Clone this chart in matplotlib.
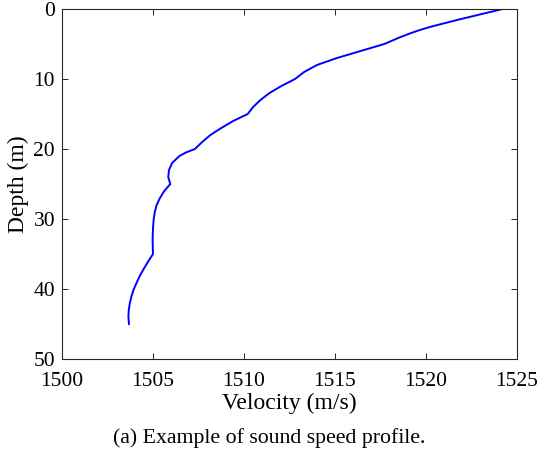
import matplotlib
matplotlib.use('Agg')
import matplotlib.pyplot as plt

# sound speed profile
depth = [0, 0.5, 1, 1.5, 2, 2.5, 3, 3.5, 4, 4.5, 5,
         6, 7, 8, 9, 10,
         11, 12, 13, 14, 15,
         16, 17, 18, 19, 20,
         20.5, 21, 22, 23, 24, 25,
         26, 27, 28, 29, 30, 31, 32, 33, 34, 35,
         36, 37, 38, 39, 40, 41, 42, 43, 44, 45]
velocity = [1524.2, 1523.4, 1522.6, 1521.8, 1521.05, 1520.3, 1519.65, 1519.1, 1518.6, 1518.15, 1517.7,
            1516.4, 1515.1, 1514.0, 1513.3, 1512.8,
            1512.05, 1511.4, 1510.9, 1510.5, 1510.2,
            1509.4, 1508.75, 1508.15, 1507.7, 1507.3,
            1506.8, 1506.45, 1506.05, 1505.88, 1505.84, 1505.95,
            1505.62, 1505.38, 1505.2, 1505.1, 1505.04, 1505.01, 1504.99, 1504.98, 1504.99, 1505.0,
            1504.75, 1504.52, 1504.3, 1504.12, 1503.95, 1503.82, 1503.73, 1503.67, 1503.65, 1503.68]

xticks = [1500, 1505, 1510, 1515, 1520, 1525]
yticks = [0, 10, 20, 30, 40, 50]

plt.rcParams['font.family'] = ['Liberation Serif', 'DejaVu Serif']

fig = plt.figure(figsize=(5.38, 4.53), dpi=100)
ax = fig.add_axes([0.1152, 0.2075, 0.8458, 0.7725])
ax.plot(velocity, depth, color='#0000ff', lw=1.4)

ax.set_xlim(1500, 1525)
ax.set_ylim(50, 0)
ax.set_xticks(xticks)
ax.set_yticks(yticks)
ax.tick_params(direction='in', length=4, width=0.7, top=True, right=True,
               labelsize=15.5, colors='#262626', labelcolor='black')
ax.tick_params(axis='x', pad=9)
ax.tick_params(axis='y', pad=5)
for s in ax.spines.values():
    s.set_linewidth(0.8)
    s.set_color('#262626')

ax.set_xlabel('Velocity (m/s)', fontsize=17, labelpad=2)
ax.set_ylabel('Depth (m)', fontsize=17, labelpad=3)

fig.text(0.5, 0.022, '(a) Example of sound speed profile.', ha='center', fontsize=15.7)

fig.savefig('out.png', dpi=100)
